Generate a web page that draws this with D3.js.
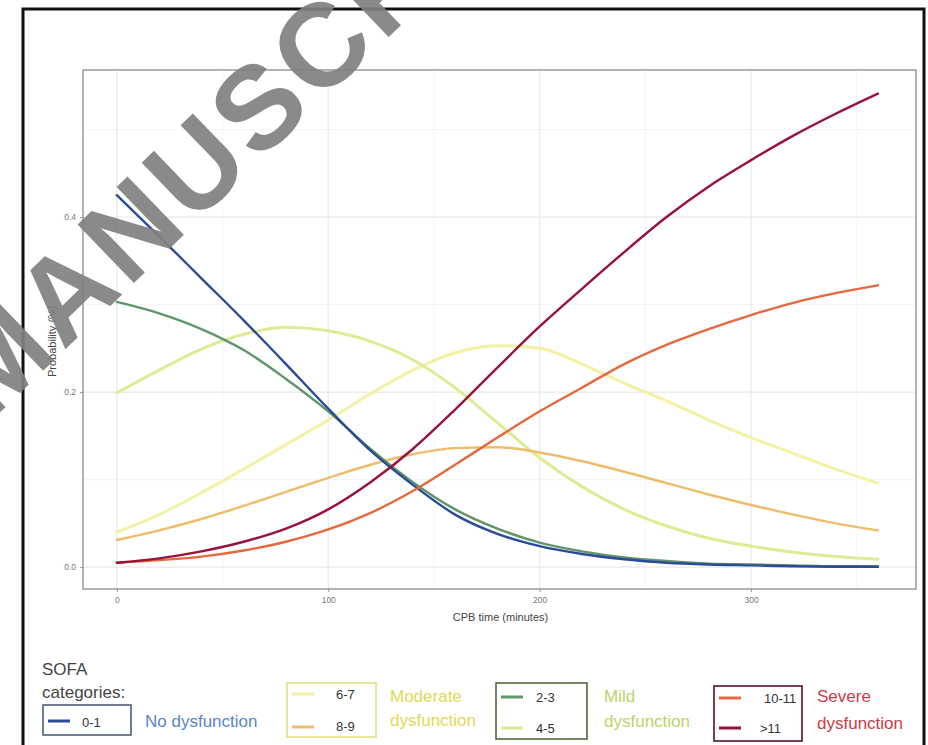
<!DOCTYPE html>
<html>
<head>
<meta charset="utf-8">
<script src="https://cdn.jsdelivr.net/npm/d3@7"></script>
<style>
  body { margin: 0; background: #fff; }
  text { font-family: "Liberation Sans", Arial, sans-serif; }
</style>
</head>
<body>
<script>
// CPB time (minutes)
var times = [0, 20, 40, 60, 80, 100, 120, 140, 160, 180, 200, 220, 240, 260, 280, 300, 320, 340, 360];

// predicted probability per SOFA category
var sofa01 = [0.425, 0.378, 0.330, 0.282, 0.232, 0.181, 0.133, 0.094, 0.060, 0.038, 0.024, 0.015, 0.009, 0.005, 0.003, 0.002, 0.001, 0.0005, 0.0003];
var sofa23 = [0.303, 0.290, 0.272, 0.248, 0.215, 0.178, 0.135, 0.097, 0.066, 0.044, 0.028, 0.018, 0.011, 0.007, 0.004, 0.003, 0.002, 0.001, 0.001];
var sofa45 = [0.199, 0.225, 0.249, 0.266, 0.274, 0.270, 0.258, 0.237, 0.205, 0.165, 0.125, 0.092, 0.066, 0.047, 0.033, 0.024, 0.017, 0.012, 0.009];
var sofa67 = [0.040, 0.060, 0.085, 0.112, 0.140, 0.168, 0.198, 0.225, 0.245, 0.253, 0.250, 0.232, 0.210, 0.190, 0.168, 0.148, 0.130, 0.112, 0.096];
var sofa89 = [0.031, 0.042, 0.055, 0.070, 0.086, 0.102, 0.117, 0.129, 0.136, 0.137, 0.131, 0.121, 0.109, 0.096, 0.083, 0.071, 0.060, 0.050, 0.042];
var sofa1011 = [0.005, 0.008, 0.012, 0.019, 0.029, 0.043, 0.062, 0.087, 0.117, 0.148, 0.178, 0.205, 0.232, 0.254, 0.272, 0.288, 0.302, 0.313, 0.322];
var sofa11 = [0.005, 0.010, 0.018, 0.029, 0.044, 0.066, 0.097, 0.135, 0.180, 0.228, 0.275, 0.318, 0.360, 0.400, 0.435, 0.465, 0.493, 0.518, 0.541];

var xTicks = [0, 100, 200, 300];
var yTicks = [0, 0.2, 0.4];

// draw order: pale ones first, dark ones on top
var series = [
    {name: "6-7", values: sofa67, color: "#f4f1a4"},
    {name: "4-5", values: sofa45, color: "#dcec94"},
    {name: "8-9", values: sofa89, color: "#eebd6c"},
    {name: "2-3", values: sofa23, color: "#5f956a"},
    {name: "0-1", values: sofa01, color: "#2b4a97"},
    {name: "10-11", values: sofa1011, color: "#e5683f"},
    {name: ">11", values: sofa11, color: "#98123c"}
];
var colorOf = {};
series.forEach(function(s) { colorOf[s.name] = s.color; });

var width = 928, height = 745;
var panel = {left: 83, right: 916, top: 70, bottom: 589};

var svg = d3.select("body").append("svg")
    .attr("width", width)
    .attr("height", height);

svg.append("rect").attr("width", width).attr("height", height).attr("fill", "#fff");

var x = d3.scaleLinear().domain([-16, 378]).range([panel.left, panel.right]);
var y = d3.scaleLinear().domain([-0.025, 0.568]).range([panel.bottom, panel.top]);

// grid
var grid = svg.append("g");
grid.selectAll(".xminor")
    .data([50, 150, 250, 350])
    .enter().append("line")
    .attr("x1", function(d) { return x(d); }).attr("x2", function(d) { return x(d); })
    .attr("y1", panel.top).attr("y2", panel.bottom)
    .attr("stroke", "#f4f4f4").attr("stroke-width", 1);
grid.selectAll(".yminor")
    .data([0.1, 0.3, 0.5])
    .enter().append("line")
    .attr("y1", function(d) { return y(d); }).attr("y2", function(d) { return y(d); })
    .attr("x1", panel.left).attr("x2", panel.right)
    .attr("stroke", "#f4f4f4").attr("stroke-width", 1);
grid.selectAll(".xmajor")
    .data(xTicks)
    .enter().append("line")
    .attr("x1", function(d) { return x(d); }).attr("x2", function(d) { return x(d); })
    .attr("y1", panel.top).attr("y2", panel.bottom)
    .attr("stroke", "#e9e9e9").attr("stroke-width", 1.2);
grid.selectAll(".ymajor")
    .data(yTicks)
    .enter().append("line")
    .attr("y1", function(d) { return y(d); }).attr("y2", function(d) { return y(d); })
    .attr("x1", panel.left).attr("x2", panel.right)
    .attr("stroke", "#e9e9e9").attr("stroke-width", 1.2);

// axes
var xAxis = svg.append("g")
    .attr("transform", "translate(0," + panel.bottom + ")")
    .call(d3.axisBottom(x).tickValues(xTicks).tickSize(3).tickPadding(5).tickFormat(d3.format("d")));
var yAxis = svg.append("g")
    .attr("transform", "translate(" + panel.left + ",0)")
    .call(d3.axisLeft(y).tickValues(yTicks).tickSize(3).tickPadding(4).tickFormat(d3.format(".1f")));
[xAxis, yAxis].forEach(function(a) {
    a.select(".domain").remove();
    a.selectAll(".tick line").attr("stroke", "#999");
    a.selectAll(".tick text").attr("fill", "#777").style("font-size", "8.5px");
});

svg.append("rect")
    .attr("x", panel.left).attr("y", panel.top)
    .attr("width", panel.right - panel.left).attr("height", panel.bottom - panel.top)
    .attr("fill", "none").attr("stroke", "#8a8a8a").attr("stroke-width", 1.3);

// curves
var line = d3.line()
    .x(function(d, i) { return x(times[i]); })
    .y(function(d) { return y(d); })
    .curve(d3.curveMonotoneX);

svg.append("g").selectAll("path")
    .data(series)
    .enter().append("path")
    .attr("d", function(s) { return line(s.values); })
    .attr("fill", "none")
    .attr("stroke", function(s) { return s.color; })
    .attr("stroke-width", function(s) { return (s.name == "6-7" || s.name == "4-5") ? 3 : 2.4; })
    .attr("stroke-linecap", "round");

// axis titles
svg.append("text")
    .attr("x", (panel.left + panel.right) / 2 + 1).attr("y", 621)
    .attr("text-anchor", "middle")
    .attr("fill", "#444").style("font-size", "11px")
    .text("CPB time (minutes)");
svg.append("text")
    .attr("transform", "translate(56,377) rotate(-90)")
    .attr("fill", "#444").style("font-size", "11px")
    .text("Probability (%)");

// legend
var legend = svg.append("g");
legend.append("text").attr("x", 42).attr("y", 675).attr("fill", "#444").style("font-size", "17px").text("SOFA");
legend.append("text").attr("x", 42).attr("y", 698).attr("fill", "#444").style("font-size", "17px").text("categories:");

var groups = [
    {box: [43, 705, 88, 30], border: "#4d5d7c", keys: [{name: "0-1", ly: 721, tx: 82, ty: 727}],
     label: ["No dysfunction"], lx: 145, ly: [727], color: "#5a86c4"},
    {box: [287, 683, 89, 54], border: "#e3df86", keys: [{name: "6-7", ly: 694, tx: 336, ty: 699}, {name: "8-9", ly: 727, tx: 336, ty: 731}],
     label: ["Moderate", "dysfunction"], lx: 390, ly: [702, 726], color: "#e0da55"},
    {box: [496, 683, 91, 56], border: "#4f6a3a", keys: [{name: "2-3", ly: 697, tx: 536, ty: 702}, {name: "4-5", ly: 728, tx: 536, ty: 733}],
     label: ["Mild", "dysfunction"], lx: 604, ly: [702, 727], color: "#bcd468"},
    {box: [714, 686, 88, 55], border: "#5a1020", keys: [{name: "10-11", ly: 698, tx: 764, ty: 703}, {name: ">11", ly: 728, tx: 760, ty: 733}],
     label: ["Severe", "dysfunction"], lx: 817, ly: [702, 729], color: "#cc3a48"}
];

groups.forEach(function(g) {
    legend.append("rect")
        .attr("x", g.box[0]).attr("y", g.box[1]).attr("width", g.box[2]).attr("height", g.box[3])
        .attr("fill", "none").attr("stroke", g.border).attr("stroke-width", 1.6);
    g.keys.forEach(function(k) {
        legend.append("line")
            .attr("x1", g.box[0] + 5).attr("x2", g.box[0] + 27)
            .attr("y1", k.ly).attr("y2", k.ly)
            .attr("stroke", colorOf[k.name]).attr("stroke-width", 3);
        legend.append("text").attr("x", k.tx).attr("y", k.ty)
            .attr("fill", "#333").style("font-size", "13px").text(k.name);
    });
    g.label.forEach(function(t, i) {
        legend.append("text").attr("x", g.lx).attr("y", g.ly[i])
            .attr("fill", g.color).style("font-size", "17px").text(t);
    });
});

// outer frame
svg.append("path")
    .attr("d", "M23," + height + "V9H924V" + height)
    .attr("fill", "none").attr("stroke", "#111").attr("stroke-width", 3);

// watermark
svg.append("text")
    .attr("transform", "translate(-11,423) rotate(-44)")
    .attr("fill", "#808080").attr("fill-opacity", 0.92)
    .style("font-size", "118px").style("font-weight", "bold").style("letter-spacing", "5px")
    .text("MANUSCRIPT");
</script>
</body>
</html>
